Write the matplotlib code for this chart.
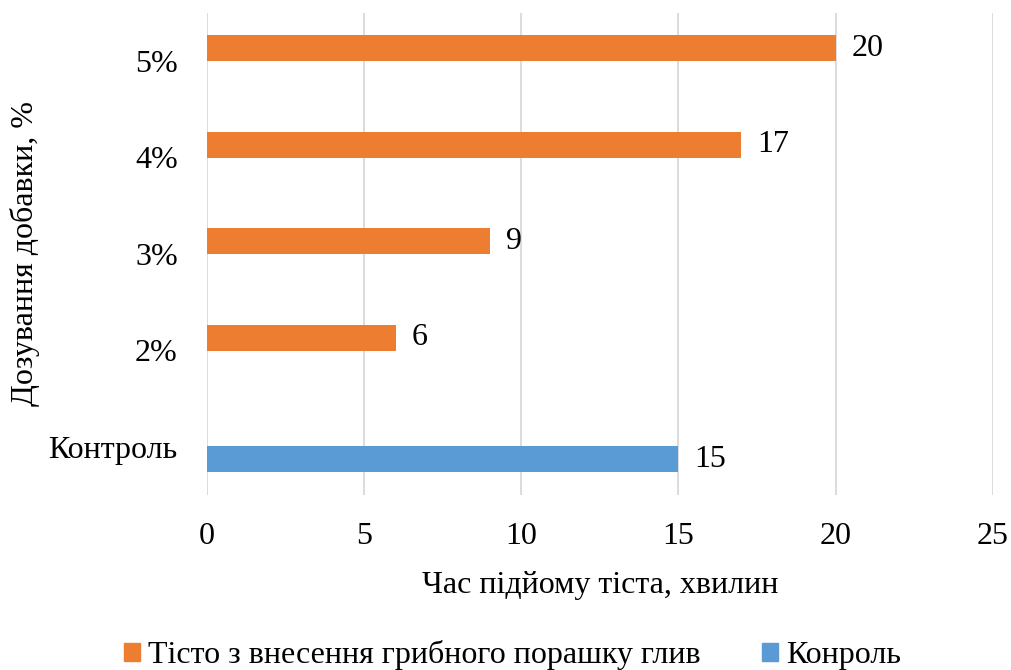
import matplotlib
matplotlib.use("Agg")
import matplotlib.pyplot as plt
import numpy as np
from matplotlib.patches import Patch

categories = ["Контроль", "2%", "3%", "4%", "5%"]
series_mushroom = [0, 6, 9, 17, 20]
series_control = [15, 0, 0, 0, 0]
series_names = ["Тісто з внесення грибного порашку глив", "Конроль"]
x_ticks = [0, 5, 10, 15, 20, 25]

plt.rcParams['font.family'] = ['Liberation Serif', 'DejaVu Serif']
FS = 23

fig = plt.figure(figsize=(10.11, 6.70), dpi=100)
ax = fig.add_axes([0.2047, 0.261, 0.7773, 0.720])

orange = "#ED7D31"
blue = "#5B9BD5"
y = np.arange(len(categories))
h = 0.27
off = 0.13

for i, v in enumerate(series_mushroom):
    if v:
        ax.barh(y[i] + off, v, height=h, color=orange, zorder=3)
        ax.text(v + 0.5, y[i] + off, str(v), va="center", ha="left", fontsize=FS)
for i, v in enumerate(series_control):
    if v:
        ax.barh(y[i] - off, v, height=h, color=blue, zorder=3)
        ax.text(v + 0.5, y[i] - off, str(v), va="center", ha="left", fontsize=FS)

ax.set_xlim(0, 25)
ax.set_ylim(-0.5, len(categories) - 0.5)
ax.set_xticks(x_ticks)
ax.set_yticks(y)
ax.set_yticklabels(categories)
ax.tick_params(axis="both", length=0, labelsize=FS)
ax.tick_params(axis="x", pad=19)
ax.tick_params(axis="y", pad=21)
ax.grid(axis="x", color="#d9d9d9", linewidth=1.3, zorder=0)
for s in ax.spines.values():
    s.set_visible(False)

ax.set_xlabel("Час підйому тіста, хвилин", fontsize=FS, labelpad=15)
ax.set_ylabel("Дозування добавки, %", fontsize=FS, labelpad=6)

handles = [Patch(color=orange), Patch(color=blue)]
fig.legend(handles, series_names, loc="center", bbox_to_anchor=(0.507, 0.022),
           ncol=2, frameon=False, fontsize=FS, handlelength=0.5, handleheight=0.5,
           handletextpad=0.25, columnspacing=1.9)

fig.savefig("out.png", dpi=100)
